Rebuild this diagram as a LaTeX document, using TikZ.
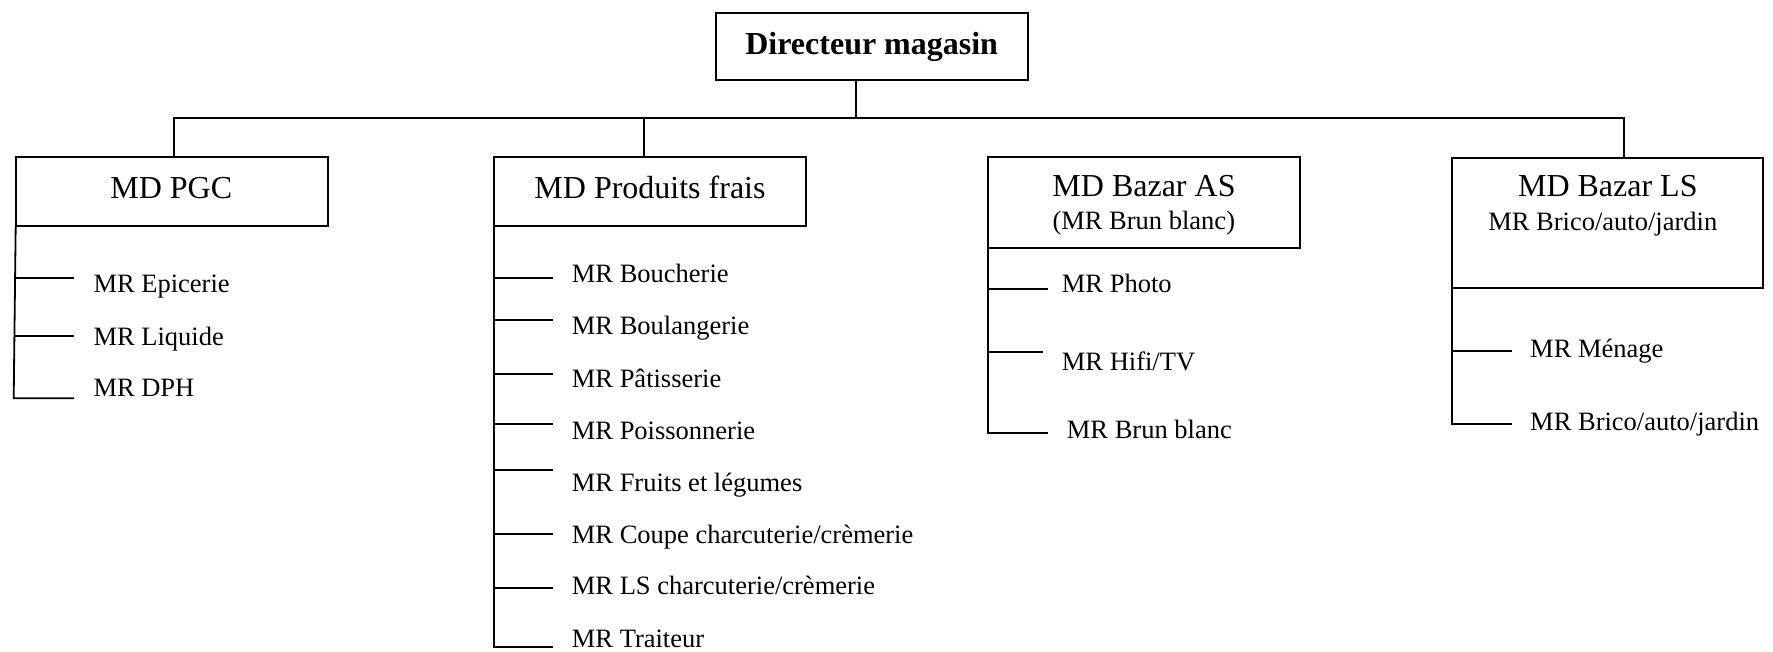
\documentclass[tikz,border=0pt]{standalone}
\usepackage{fontspec}
\setmainfont{Liberation Serif}
\begin{document}
\begin{tikzpicture}[x=1pt,y=-1pt,
  box/.style={draw, line width=1.8pt, minimum width=312.5pt, inner sep=0pt, outer sep=0pt, anchor=north west},
  ttl/.style={font=\fontsize{32}{38}\selectfont, anchor=base, inner sep=0pt},
  sub/.style={font=\fontsize{26.5}{32}\selectfont, anchor=base, inner sep=0pt},
  lbl/.style={font=\fontsize{26.5}{32}\selectfont, anchor=base west, inner sep=0pt},
  ln/.style={line width=1.8pt, line cap=rect}]
\useasboundingbox (0,0) rectangle (1773,651);

% boxes
\node[box, minimum height=67.6pt] (dir) at (715.7,12.7) {};
\node[box, minimum height=68.4pt] (pgc) at (15.7,157.3) {};
\node[box, minimum height=68.4pt, minimum width=312pt] (frais) at (494,157.3) {};
\node[box, minimum height=91pt] (bas) at (987.7,157.3) {};
\node[box, minimum height=130.6pt, minimum width=311pt] (bls) at (1452.3,157.7) {};

% box texts
\node[ttl, font=\fontsize{32}{38}\selectfont\bfseries] (dirt) at (871.7,54) {Directeur magasin};
\node[ttl] (pgct) at (171.3,198.3) {MD PGC};
\node[ttl] (fraist) at (650,198.3) {MD Produits frais};
\node[ttl] (bast) at (1144,196.7) {MD Bazar AS};
\node[sub] (bass) at (1143.8,229.3) {(MR Brun blanc)};
\node[ttl] (blst) at (1607.8,196.5) {MD Bazar LS};
\node[sub] (blss) at (1602.8,230) {MR Brico/auto/jardin};

% bus
\coordinate (bd) at (856,118);
\coordinate (bl) at (173.7,118);
\coordinate (bf) at (643.7,118);
\coordinate (br) at (1624,118);
\draw[ln] (dir.south -| bd) -- (bd);
\draw[ln] (pgc.north -| bl) -- (bl) -- (br) -- (bls.north -| br);
\draw[ln] (frais.north -| bf) -- (bf);

% PGC children
\node[lbl] (p1) at (93.3,292.7) {MR Epicerie};
\node[lbl] (p2) at (93.3,345) {MR Liquide};
\node[lbl] (p3) at (93.3,396.5) {MR DPH};
\coordinate (pt1) at (73.3,278.3);
\coordinate (pt2) at (73.3,336);
\coordinate (pt3) at (73.3,398.3);
\draw[ln] (pgc.south west) -- (13.7,398.3) -- (pt3);
\draw[ln] (pgc.south west |- pt1) -- (pt1);
\draw[ln] (14.5,336) -- (pt2);

% Produits frais children
\node[lbl] (f1) at (571.7,282.5) {MR Boucherie};
\node[lbl] (f2) at (571.7,334.8) {MR Boulangerie};
\node[lbl] (f3) at (571.7,387) {MR Pâtisserie};
\node[lbl] (f4) at (571.7,439.2) {MR Poissonnerie};
\node[lbl] (f5) at (571.7,491.4) {MR Fruits et légumes};
\node[lbl] (f6) at (571.7,543.6) {MR Coupe charcuterie/crèmerie};
\node[lbl] (f7) at (571.7,594.5) {MR LS charcuterie/crèmerie};
\node[lbl] (f8) at (571.7,647) {MR Traiteur};
\coordinate (ft1) at (552,278.3);
\coordinate (ft2) at (552,319.7);
\coordinate (ft3) at (552,374);
\coordinate (ft4) at (552,424);
\coordinate (ft5) at (552,470);
\coordinate (ft6) at (552,534);
\coordinate (ft7) at (552,588.3);
\coordinate (ft8) at (552,647);
\draw[ln] (frais.south west) -- (frais.south west |- ft8) -- (ft8);
\foreach \t in {ft1,ft2,ft3,ft4,ft5,ft6,ft7}
  \draw[ln] (frais.south west |- \t) -- (\t);

% Bazar AS children
\node[lbl] (a1) at (1061.7,292.7) {MR Photo};
\node[lbl] (a2) at (1061.7,370) {MR Hifi/TV};
\node[lbl] (a3) at (1066.7,438.3) {MR Brun blanc};
\coordinate (at1) at (1046.7,289);
\coordinate (at2) at (1041.7,352.3);
\coordinate (at3) at (1046.7,432.7);
\draw[ln] (bas.south west) -- (bas.south west |- at3) -- (at3);
\draw[ln] (bas.south west |- at1) -- (at1);
\draw[ln] (bas.south west |- at2) -- (at2);

% Bazar LS children
\node[lbl] (l1) at (1530,357) {MR Ménage};
\node[lbl] (l2) at (1530,430.7) {MR Brico/auto/jardin};
\coordinate (lt1) at (1511,351);
\coordinate (lt2) at (1511,424);
\draw[ln] (bls.south west) -- (bls.south west |- lt2) -- (lt2);
\draw[ln] (bls.south west |- lt1) -- (lt1);
\end{tikzpicture}
\end{document}
